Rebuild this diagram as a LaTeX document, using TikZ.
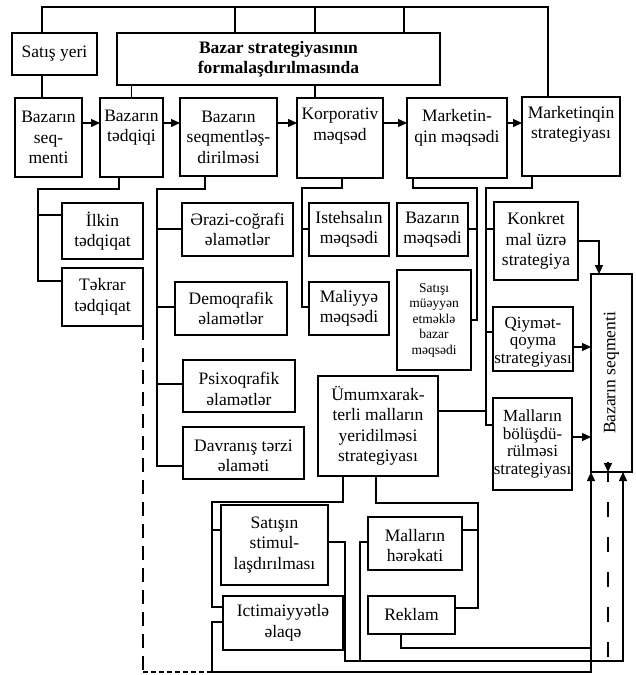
\documentclass[tikz,border=0pt]{standalone}
\usepackage{fontspec}
\setmainfont{Liberation Serif}
\usetikzlibrary{arrows.meta}
% a framed box given by its top-left and bottom-right corners
\newcommand\boxat[5]{\node[frame, minimum width={#4-#2}, minimum height={#5-#3}] (#1) at (#2,#3) {};}
\begin{document}
\begin{tikzpicture}[x=1pt,y=-1pt,
  frame/.style={draw, line width=1.6pt, inner sep=0pt, outer sep=0pt, anchor=north west},
  lbl/.style={align=center, inner sep=0pt, font=\fontsize{17.5}{20.5}\selectfont},
  tight/.style={align=center, inner sep=0pt, font=\fontsize{17}{17.5}\selectfont},
  small/.style={align=center, inner sep=0pt, font=\fontsize{13.5}{15.5}\selectfont},
  wire/.style={line width=1.4pt},
  arr/.style={wire, -{Triangle[length=9pt,width=8pt]}},
  longdash/.style={wire, dash pattern=on 14pt off 8pt},
  shortdash/.style={wire, dash pattern=on 5pt off 3pt},
  sparsedash/.style={wire, dash pattern=on 15pt off 20pt},
]
\fill[white] (0,0) rectangle (635,675);
\useasboundingbox (0,0) rectangle (635,675);

% ---- boxes ----
\boxat{satis}{12}{33}{97}{75}
\boxat{bazar}{117}{33}{440}{85}
\boxat{bseq}{15}{98}{82}{177}
\boxat{btad}{100}{98}{163}{177}
\boxat{bsegl}{180}{98}{277}{176}
\boxat{korp}{297}{98}{383}{178}
\boxat{mmeq}{407}{98}{507}{178}
\boxat{mstr}{522}{97}{620}{176}
\boxat{ilkin}{62}{203}{143}{259}
\boxat{tekrar}{62}{268}{143}{326}
\boxat{erazi}{182}{203}{293}{256}
\boxat{demo}{175}{282}{287}{335}
\boxat{psix}{183}{360}{295}{412}
\boxat{davr}{183}{427}{304}{479}
\boxat{isteh}{309}{203}{389}{256}
\boxat{maliy}{309}{282}{389}{335}
\boxat{bmeq}{397}{203}{468}{256}
\boxat{satisi}{397}{270}{471}{370}
\boxat{konk}{494}{202}{578}{280}
\boxat{qiym}{493}{307}{573}{371}
\boxat{mbol}{493}{398}{572}{490}
\boxat{bseg2}{591}{274}{632}{472}
\boxat{umum}{318}{376}{438}{476}
\boxat{satin}{221}{505}{328}{585}
\boxat{ictim}{223}{596}{343}{650}
\boxat{mhar}{368}{517}{462}{570}
\boxat{rekl}{368}{596}{455}{634}

% ---- texts ----
\node[lbl] (satisT) at (satis.center) {Satış yeri};
\node[lbl, font=\bfseries\fontsize{17.5}{20}\selectfont] (bazarT) at (bazar.center) {Bazar strategiyasının\\formalaşdırılmasında};
\node[lbl] (bseqT) at (bseq.center) {Bazarın\\seq-\\menti};
\node[lbl, yshift=10pt] (btadT) at (btad.center) {Bazarın\\tədqiqi};
\node[lbl] (bseglT) at (bsegl.center) {Bazarın\\seqmentləş-\\dirilməsi};
\node[lbl, yshift=12pt] (korpT) at (korp.center) {Korporativ\\məqsəd};
\node[lbl, yshift=10pt] (mmeqT) at (mmeq.center) {Marketin-\\qin məqsədi};
\node[lbl, yshift=12pt] (mstrT) at (mstr.center) {Marketinqin\\strategiyası};
\node[lbl] (ilkinT) at (ilkin.center) {İlkin\\tədqiqat};
\node[lbl] (tekrarT) at (tekrar.center) {Təkrar\\tədqiqat};
\node[lbl] (eraziT) at (erazi.center) {Ərazi-coğrafi\\əlamətlər};
\node[lbl] (demoT) at (demo.center) {Demoqrafik\\əlamətlər};
\node[lbl, yshift=-3pt] (psixT) at (psix.center) {Psixoqrafik\\əlamətlər};
\node[lbl, yshift=-3pt] (davrT) at (davr.center) {Davranış tərzi\\əlaməti};
\node[lbl] (istehT) at (isteh.center) {Istehsalın\\məqsədi};
\node[lbl] (maliyT) at (maliy.center) {Maliyyə\\məqsədi};
\node[lbl] (bmeqT) at (bmeq.center) {Bazarın\\məqsədi};
\node[small] (satisiT) at (satisi.center) {Satışı\\müəyyən\\etməklə\\bazar\\məqsədi};
\node[lbl] (konkT) at (konk.center) {Konkret\\mal üzrə\\strategiya};
\node[tight, yshift=-3pt] (qiymT) at (qiym.center) {Qiymət-\\qoyma\\strategiyası};
\node[tight] (mbolT) at (mbol.center) {Malların\\bölüşdü-\\rülməsi\\strategiyası};
\node[lbl, rotate=90] (bseg2T) at (bseg2.center) {Bazarın seqmenti};
\node[lbl] (umumT) at (umum.center) {Ümumxarak-\\terli malların\\yeridilməsi\\strategiyası};
\node[lbl] (satinT) at (satin.center) {Satışın\\stimul-\\laşdırılması};
\node[lbl] (ictimT) at (ictim.center) {Ictimaiyyətlə\\əlaqə};
\node[lbl, yshift=-2pt] (mharT) at (mhar.center) {Malların\\hərəkati};
\node[lbl] (reklT) at (rekl.center) {Reklam};

% ---- top bar ----
\coordinate (tl) at (42,7);
\coordinate (ta) at (235,7);
\coordinate (tb) at (315,7);
\coordinate (tc) at (404,7);
\coordinate (tr) at (548,7);
\draw[wire] (tl |- satis.north) -- (tl) -- (tr) -- (tr |- mstr.north);
\draw[wire] (ta) -- (ta |- bazar.north);
\draw[wire] (tb) -- (tb |- bazar.north);
\draw[wire] (tc) -- (tc |- bazar.north);
\draw[wire] (tl |- satis.south) -- (tl |- bseq.north);
\draw[wire] (btad.north |- bazar.south) -- (btad.north);
\draw[wire] (tb |- bazar.south) -- (tb |- korp.north);

% ---- second row arrows ----
\coordinate (ra) at (0,123);
\draw[arr] (bseq.east |- ra) -- (btad.west |- ra);
\draw[arr] (btad.east |- ra) -- (bsegl.west |- ra);
\draw[arr] (bsegl.east |- ra) -- (korp.west |- ra);
\draw[arr] (korp.east |- ra) -- (mmeq.west |- ra);
\draw[arr] (mmeq.east |- ra) -- (mstr.west |- ra);

% ---- research branch ----
\coordinate (jA) at (119,189);
\coordinate (jB) at (38,189);
\coordinate (jC) at (38,215);
\coordinate (jD) at (38,281);
\draw[wire] (jA |- btad.south) -- (jA) -- (jB) -- (jD) -- (jD -| tekrar.west);
\draw[wire] (jC) -- (jC -| ilkin.west);

% ---- segmentation branch ----
\coordinate (kA) at (205,189);
\coordinate (kB) at (157,189);
\coordinate (kC) at (157,229);
\coordinate (kD) at (157,307);
\coordinate (kF) at (157,384);
\coordinate (kE) at (157,466);
\draw[wire] (kA |- bsegl.south) -- (kA) -- (kB) -- (kE) -- (kE -| davr.west);
\draw[wire] (kC) -- (kC -| erazi.west);
\draw[wire] (kD) -- (kD -| demo.west);
\draw[wire] (kF) -- (kF -| psix.west);

% ---- corporate goal branch ----
\coordinate (mA) at (342,188);
\coordinate (mB) at (302,188);
\coordinate (mC) at (302,229);
\coordinate (mD) at (302,307);
\draw[wire] (mA |- korp.south) -- (mA) -- (mB) -- (mD) -- (mD -| maliy.west);
\draw[wire] (mC) -- (mC -| isteh.west);

% ---- marketing goal branch ----
\coordinate (nA) at (413,188);
\coordinate (nB) at (477,188);
\coordinate (nC) at (477,229);
\coordinate (nD) at (477,320);
\draw[wire] (nA |- mmeq.south) -- (nA) -- (nB) -- (nD) -- (nD -| satisi.east);
\draw[wire] (nC) -- (nC -| bmeq.east);

% ---- marketing strategy branch ----
\coordinate (qA) at (532,188);
\coordinate (qB) at (486,188);
\coordinate (qC) at (486,229);
\coordinate (qD) at (486,332);
\coordinate (qF) at (486,411);
\coordinate (qE) at (486,425);
\draw[wire] (qA |- mstr.south) -- (qA) -- (qB) -- (qE) -- (qE -| mbol.west);
\draw[wire] (qC) -- (qC -| konk.west);
\draw[wire] (qD) -- (qD -| qiym.west);
\draw[wire] (umum.east |- qF) -- (qF);

% ---- arrows into the market segment ----
\coordinate (rA) at (599,241);
\coordinate (rB) at (591,347);
\coordinate (rC) at (591,437);
\draw[arr] (konk.east |- rA) -- (rA) -- (rA |- bseg2.north);
\draw[arr] (qiym.east |- rB) -- (rB -| bseg2.west);
\draw[arr] (mbol.east |- rC) -- (rC -| bseg2.west);

% ---- promotion branches ----
\coordinate (sA) at (343,502);
\coordinate (sB) at (212,502);
\coordinate (sC) at (212,530);
\coordinate (sD) at (212,607);
\draw[wire] (sA |- umum.south) -- (sA) -- (sB) -- (sD) -- (sD -| ictim.west);
\draw[wire] (sC) -- (sC -| satin.west);

\coordinate (tA) at (376,503);
\coordinate (tB) at (478,503);
\coordinate (tC) at (478,530);
\coordinate (tD) at (478,608);
\draw[wire] (tA |- umum.south) -- (tA) -- (tB) -- (tD) -- (tD -| rekl.east);
\draw[wire] (tC) -- (tC -| mhar.east);

% ---- feedback lines along the bottom ----
\coordinate (uA) at (212,622);
\coordinate (uB) at (212,672);
\coordinate (uC) at (591,672);
\draw[arr] (ictim.west |- uA) -- (uA) -- (uB) -- (uC) -- (uC |- bseg2.south);

\coordinate (vA) at (345,542);
\coordinate (vB) at (345,661);
\coordinate (vC) at (623,661);
\draw[arr] (satin.east |- vA) -- (vA) -- (vB) -- (vC) -- (vC |- bseg2.south);

\coordinate (wA) at (360,542);
\coordinate (wB) at (360,661);
\draw[wire] (mhar.west |- wA) -- (wA) -- (wB);

\coordinate (xA) at (401,648);
\coordinate (xB) at (591,648);
\draw[wire] (xA |- rekl.south) -- (xA) -- (xB);

% dashed return path from the repeated research
\coordinate (dA) at (143,672);
\draw[longdash] (tekrar.south east) -- (dA);
\draw[shortdash] (dA) -- (uB);
\coordinate (yA) at (608,657);
\draw[sparsedash] (yA) -- (yA |- bseg2.south);
\draw[arr, solid] ([yshift=10pt]yA |- bseg2.south) -- (yA |- bseg2.south);
\end{tikzpicture}
\end{document}
